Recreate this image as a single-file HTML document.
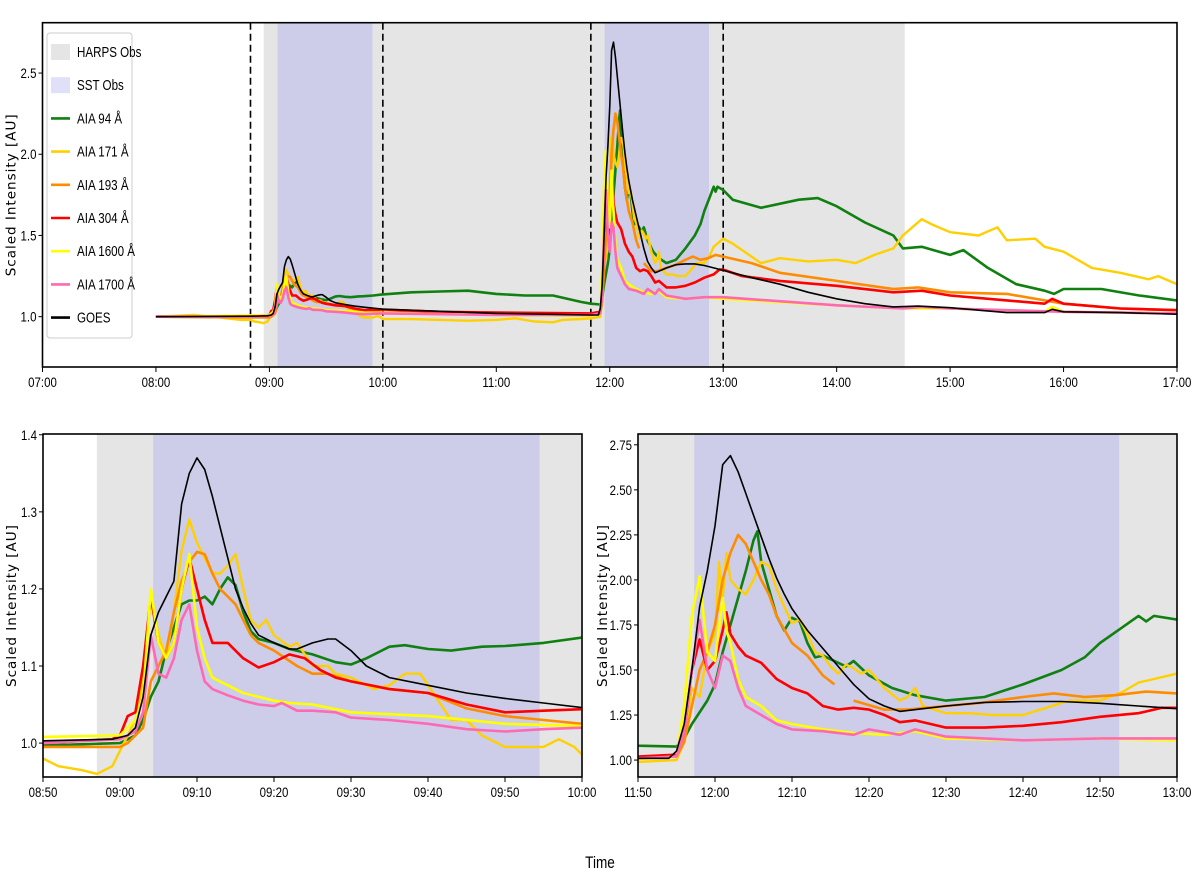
<!DOCTYPE html>
<html><head><meta charset="utf-8">
<style>
body{margin:0;background:#fff;width:1200px;height:885px;overflow:hidden}
svg text{font-family:"Liberation Sans Narrow","Liberation Sans",sans-serif}
</style></head>
<body>
<svg id="fig" width="1200" height="885" viewBox="0 0 1200 885" xmlns="http://www.w3.org/2000/svg">
<text x="600" y="868" font-size="17" text-anchor="middle" transform="translate(600,868) scale(0.8,1) translate(-600,-868)">Time</text>
</svg>
<script>
// ---- data (times as HH:MM, values scaled intensity) ----
const t94 = ["08:00","08:50","09:00","09:02","09:03","09:04","09:05","09:06","09:07","09:08","09:09","09:10","09:11","09:12","09:13","09:14","09:15","09:16","09:17","09:18","09:20","09:22","09:25","09:28","09:30","09:32","09:35","09:37","09:40","09:43","09:47","09:50","09:55","10:00","10:15","10:30","10:45","11:00","11:15","11:30","11:45","11:50","11:55","11:56","11:57","11:59","12:00","12:01","12:02","12:03","12:04","12:05","12:05.5","12:06","12:07","12:08","12:09","12:10","12:11","12:12","12:13","12:14","12:15","12:17","12:18","12:20","12:23","12:26","12:30","12:35","12:40","12:45","12:48","12:50","12:53","12:55","12:56","12:57","13:00","13:05","13:20","13:40","13:50","14:00","14:15","14:30","14:35","14:45","15:00","15:07","15:20","15:35","15:50","15:55","16:00","16:20","16:40","17:00"];
const v94 = [1.0,0.997,1.0,1.01,1.03,1.06,1.08,1.12,1.15,1.18,1.185,1.185,1.19,1.18,1.2,1.215,1.205,1.17,1.145,1.135,1.13,1.122,1.115,1.105,1.102,1.11,1.125,1.127,1.122,1.12,1.125,1.126,1.13,1.137,1.15,1.155,1.16,1.14,1.13,1.13,1.09,1.08,1.075,1.12,1.2,1.33,1.42,1.6,1.75,1.9,2.05,2.22,2.27,2.1,1.95,1.8,1.72,1.79,1.77,1.65,1.57,1.58,1.56,1.52,1.55,1.47,1.4,1.36,1.33,1.35,1.42,1.5,1.57,1.65,1.74,1.8,1.77,1.8,1.78,1.72,1.67,1.72,1.73,1.68,1.58,1.5,1.42,1.43,1.38,1.41,1.3,1.2,1.16,1.14,1.17,1.17,1.13,1.1];

const t171 = ["08:00","08:20","08:30","08:45","08:50","08:52","08:55","08:57","08:59","09:00","09:02","09:03","09:04","09:05","09:06","09:07","09:08","09:09","09:10","09:11","09:12","09:13","09:14","09:15","09:16","09:17","09:18","09:19","09:20","09:22","09:23","09:25","09:27","09:28","09:30","09:33","09:35","09:37","09:39","09:41","09:43","09:45","09:47","09:50","09:53","09:55","09:57","09:59","10:00","10:15","10:30","10:45","11:00","11:10","11:20","11:30","11:35","11:45","11:50","11:55","11:56","11:57","11:58","11:59","12:00","12:00.5","12:01","12:01.5","12:02","12:03","12:04","12:05","12:06","12:07","12:08","12:09","12:10","12:11","12:12","12:13","12:14","12:15","12:16","12:17","12:18","12:19","12:20","12:21","12:22","12:24","12:25","12:26","12:27","12:30","12:33","12:36","12:40","12:43","12:46","12:50","12:53","12:55","12:57","13:00","13:05","13:15","13:20","13:30","13:45","14:00","14:10","14:20","14:30","14:35","14:45","14:50","15:00","15:15","15:25","15:30","15:45","15:50","16:00","16:15","16:30","16:45","16:50","17:00"];
const v171 = [1.0,1.01,1.0,0.98,0.98,0.97,0.965,0.96,0.97,0.99,1.03,1.08,1.19,1.14,1.11,1.17,1.25,1.29,1.26,1.24,1.22,1.22,1.23,1.245,1.2,1.16,1.15,1.16,1.14,1.125,1.13,1.1,1.1,1.09,1.085,1.07,1.075,1.09,1.09,1.06,1.03,1.03,1.01,0.995,0.995,0.995,1.005,0.995,0.985,0.985,0.98,0.975,0.98,0.99,0.97,0.965,0.98,0.985,0.99,1.0,1.1,1.4,1.35,1.6,1.7,2.1,1.9,2.15,2.0,1.95,1.92,2.0,2.1,2.08,1.95,1.85,1.76,1.78,1.7,1.6,1.58,1.52,1.48,1.53,1.51,1.48,1.5,1.45,1.4,1.33,1.35,1.4,1.3,1.26,1.26,1.25,1.25,1.29,1.33,1.33,1.38,1.43,1.45,1.48,1.45,1.37,1.33,1.36,1.34,1.35,1.33,1.38,1.42,1.5,1.6,1.57,1.52,1.5,1.55,1.47,1.48,1.43,1.4,1.3,1.27,1.23,1.25,1.2];

const t193 = ["08:00","08:50","09:00","09:01","09:03","09:04","09:05","09:06","09:07","09:08","09:09","09:10","09:11","09:12","09:13","09:14","09:15","09:16","09:17","09:18","09:20","09:23","09:25","09:27","09:30","09:35","09:40","09:45","09:50","09:55","10:00","11:00","11:50","11:55","11:56","11:57","11:58","11:59","12:00","12:01","12:02","12:03","12:04","12:05","12:06","12:07","12:08","12:10","12:12","12:14","12:15.5","12:16","12:18","12:22","12:25","12:30","12:35","12:40","12:44","12:48","12:52","12:56","13:00","13:15","13:30","14:00","14:30","14:43","15:00","15:30","15:50","16:00","16:30","17:00"];
const v193 = [1.0,0.995,0.995,1.0,1.02,1.08,1.1,1.12,1.17,1.21,1.235,1.248,1.245,1.22,1.2,1.19,1.18,1.16,1.14,1.13,1.12,1.1,1.09,1.09,1.08,1.07,1.065,1.045,1.035,1.03,1.025,1.015,1.01,1.02,1.1,1.3,1.5,1.6,1.75,2.0,2.15,2.25,2.2,2.1,2.0,1.92,1.8,1.65,1.58,1.47,1.42,null,1.33,1.28,1.28,1.3,1.32,1.35,1.37,1.35,1.36,1.38,1.37,1.33,1.27,1.22,1.17,1.18,1.15,1.14,1.1,1.08,1.05,1.04];

const t304 = ["08:00","08:50","08:59","09:00","09:01","09:02","09:03","09:04","09:05","09:06","09:07","09:08","09:09","09:10","09:11","09:12","09:14","09:16","09:18","09:20","09:22","09:24","09:26","09:28","09:30","09:35","09:40","09:45","09:50","09:55","10:00","10:30","11:00","11:50","11:55","11:56","11:57","11:58","11:59","12:00","12:01","12:01.5","12:02","12:03","12:04","12:06","12:08","12:10","12:12","12:14","12:16","12:18","12:20","12:22","12:24","12:26","12:28","12:30","12:35","12:40","12:45","12:50","12:55","12:58","13:00","13:10","13:30","14:00","14:30","14:45","15:00","15:30","15:50","15:54","16:00","16:30","17:00"];
const v304 = [1.0,1.0,1.005,1.01,1.035,1.04,1.1,1.19,1.13,1.11,1.13,1.2,1.24,1.2,1.16,1.13,1.13,1.11,1.098,1.105,1.115,1.11,1.095,1.085,1.08,1.07,1.065,1.05,1.04,1.042,1.044,1.03,1.025,1.02,1.03,1.15,1.5,1.67,1.5,1.55,1.72,1.82,1.7,1.63,1.58,1.54,1.45,1.4,1.37,1.3,1.28,1.29,1.28,1.25,1.21,1.22,1.2,1.18,1.18,1.19,1.21,1.24,1.26,1.29,1.29,1.25,1.22,1.19,1.15,1.16,1.13,1.1,1.08,1.11,1.08,1.05,1.04];

const t1600 = ["08:00","08:50","09:00","09:02","09:03","09:04","09:05","09:06","09:07","09:08","09:09","09:10","09:11","09:12","09:14","09:16","09:18","09:20","09:22","09:25","09:30","09:40","09:50","10:00","11:00","11:50","11:55","11:56","11:57","11:58","11:59","12:00","12:01","12:01.5","12:02","12:03","12:04","12:06","12:08","12:10","12:14","12:18","12:22","12:26","12:30","12:40","12:50","13:00","14:00","14:35","15:00","15:50","15:54","16:00","17:00"];
const v1600 = [1.0,1.008,1.01,1.03,1.06,1.2,1.13,1.11,1.13,1.2,1.245,1.15,1.11,1.085,1.075,1.065,1.06,1.055,1.052,1.05,1.04,1.035,1.025,1.022,1.01,1.005,1.02,1.3,1.8,2.02,1.6,1.55,1.9,1.72,1.65,1.45,1.35,1.3,1.22,1.2,1.17,1.15,1.14,1.16,1.12,1.11,1.12,1.11,1.07,1.05,1.05,1.03,1.06,1.03,1.02];

const t1700 = ["08:00","08:50","09:00","09:02","09:03","09:04","09:05","09:06","09:07","09:08","09:09","09:10","09:11","09:12","09:14","09:16","09:18","09:20","09:21","09:23","09:25","09:28","09:30","09:35","09:40","09:45","09:50","09:55","10:00","11:00","11:50","11:55","11:56","11:57","11:58","11:59","12:00","12:01","12:02","12:03","12:04","12:06","12:08","12:10","12:14","12:18","12:20","12:24","12:26","12:30","12:40","12:50","13:00","14:00","14:35","14:45","15:00","16:00","17:00"];
const v1700 = [1.0,1.0,1.005,1.015,1.04,1.14,1.09,1.085,1.11,1.16,1.18,1.12,1.08,1.07,1.062,1.055,1.05,1.048,1.052,1.042,1.042,1.04,1.033,1.03,1.025,1.018,1.015,1.018,1.02,1.01,1.01,1.02,1.15,1.5,1.78,1.5,1.4,1.58,1.55,1.4,1.3,1.25,1.2,1.17,1.16,1.14,1.17,1.14,1.17,1.13,1.11,1.12,1.12,1.07,1.05,1.06,1.05,1.03,1.02];

const tGoes = ["08:00","08:50","08:59","09:01","09:02","09:03","09:04","09:05","09:06","09:07","09:08","09:09","09:10","09:11","09:12","09:13","09:14","09:15","09:16","09:17","09:18","09:20","09:22","09:23","09:25","09:27","09:28","09:30","09:32","09:35","09:40","09:45","09:50","09:55","10:00","11:00","11:50","11:54","11:55","11:56","11:57","11:58","11:59","12:00","12:01","12:02","12:03","12:04","12:05","12:06","12:07","12:08","12:09","12:10","12:12","12:14","12:16","12:18","12:20","12:22","12:24","12:27","12:30","12:35","12:40","12:45","12:50","12:55","13:00","13:15","13:30","13:45","14:00","14:15","14:30","14:43","15:00","15:15","15:30","15:50","15:54","16:00","16:30","17:00"];
const vGoes = [1.0,1.003,1.005,1.01,1.02,1.06,1.14,1.17,1.19,1.21,1.31,1.35,1.37,1.355,1.32,1.28,1.24,1.2,1.175,1.155,1.14,1.13,1.122,1.122,1.13,1.135,1.135,1.12,1.1,1.085,1.075,1.065,1.058,1.052,1.046,1.02,1.01,1.01,1.05,1.2,1.5,1.85,2.05,2.3,2.64,2.69,2.6,2.48,2.36,2.24,2.12,2.01,1.92,1.84,1.72,1.62,1.52,1.42,1.34,1.3,1.27,1.285,1.3,1.32,1.325,1.325,1.315,1.3,1.285,1.24,1.2,1.15,1.11,1.08,1.06,1.065,1.055,1.04,1.025,1.025,1.045,1.03,1.025,1.015];

const topTicks = ["07:00","08:00","09:00","10:00","11:00","12:00","13:00","14:00","15:00","16:00","17:00"];
const leftTicks = ["08:50","09:00","09:10","09:20","09:30","09:40","09:50","10:00"];
const rightTicks = ["11:50","12:00","12:10","12:20","12:30","12:40","12:50","13:00"];
const topYTicks = [1.0,1.5,2.0,2.5];
const leftYTicks = [1.0,1.1,1.2,1.3,1.4];
const rightYTicks = [1.00,1.25,1.50,1.75,2.00,2.25,2.50,2.75];
const harpsSpan = ["08:57","14:36"];
const sstSpans = [["09:04.3","09:54.5"],["11:57.3","12:52.5"]];
const flareMarks = ["08:50","10:00","11:50","13:00"];

const NS = "http://www.w3.org/2000/svg";
const fig = document.getElementById('fig');
function tm(s){const p=s.split(':');return (+p[0])*60+parseFloat(p[1]);}
function mk(tag,attrs,parent){const e=document.createElementNS(NS,tag);for(const k in attrs)e.setAttribute(k,attrs[k]);(parent||fig).appendChild(e);return e;}

const series = [
 {name:"aia-94-line",t:t94,v:v94,c:"#108010",w:2.6},
 {name:"aia-171-line",t:t171,v:v171,c:"#ffd000",w:2.4},
 {name:"aia-193-line",t:t193,v:v193,c:"#ff8c00",w:2.6},
 {name:"aia-304-line",t:t304,v:v304,c:"#ff0000",w:2.6},
 {name:"aia-1600-line",t:t1600,v:v1600,c:"#ffff00",w:2.6},
 {name:"aia-1700-line",t:t1700,v:v1700,c:"#ff69b4",w:2.6},
 {name:"goes-line",t:tGoes,v:vGoes,c:"#000000",w:1.6}
];

function panel(id,L,R,T,B,x0,x1,y0,y1,xt,yt,yfmt,dash,titleOff){
  const g=mk('g',{});
  
  
  const X=m=>L+(m-tm(x0))/(tm(x1)-tm(x0))*(R-L);
  const Y=v=>B-(v-y0)/(y1-y0)*(B-T);
  const clipId=id+'-clip';
  const cp=mk('clipPath',{id:clipId},g);mk('rect',{x:L,y:T,width:R-L,height:B-T},cp);
  const body=mk('g',{'clip-path':'url(#'+clipId+')'},g);
  const h=mk('rect',{x:X(tm(harpsSpan[0])),y:T,width:X(tm(harpsSpan[1]))-X(tm(harpsSpan[0])),height:B-T,fill:'#e5e5e5'},body);
  
  
  sstSpans.forEach(s=>{const r=mk('rect',{x:X(tm(s[0])),y:T,width:X(tm(s[1]))-X(tm(s[0])),height:B-T,fill:'#cdcde9'},body);
    
    });
  if(dash){flareMarks.forEach(f=>{const l=mk('line',{x1:X(tm(f)),x2:X(tm(f)),y1:T,y2:B,stroke:'#000','stroke-width':1.6,'stroke-dasharray':'7,4'},body);
    
    });}
  series.forEach(s=>{let d='',pen=false;
    for(let i=0;i<s.t.length;i++){if(s.v[i]===null){pen=false;continue;}
      d+=(pen?'L':'M')+X(tm(s.t[i])).toFixed(1)+','+Y(s.v[i]).toFixed(1);pen=true;}
    const p=mk('path',{d:d,fill:'none',stroke:s.c,'stroke-width':s.w,'stroke-linejoin':'round'},body);
    
    });
  mk('rect',{x:L,y:T,width:R-L,height:B-T,fill:'none',stroke:'#000','stroke-width':1.6},g);
  xt.forEach(s=>{const x=X(tm(s));mk('line',{x1:x,x2:x,y1:B,y2:B+5,stroke:'#000','stroke-width':1},g);
    const tx=mk('text',{x:x,y:B+20,'font-size':13.5,'text-anchor':'middle',transform:`translate(${x},0) scale(0.85,1) translate(${-x},0)`},g);tx.textContent=s;
    
    });
  yt.forEach(v=>{const y=Y(v);mk('line',{x1:L-4,x2:L,y1:y,y2:y,stroke:'#000','stroke-width':1},g);
    const tx=mk('text',{x:L-6,y:y+5,'font-size':13.5,'text-anchor':'end',transform:`translate(${L-6},0) scale(0.85,1) translate(${-(L-6)},0)`},g);tx.textContent=yfmt(v);
    
    });
  const yl=mk('text',{x:0,y:0,'font-size':13.5,'text-anchor':'middle','letter-spacing':'1',transform:`translate(${L-titleOff},${(T+B)/2}) rotate(-90)`,style:'font-family:"DejaVu Sans",sans-serif'},g);
  yl.textContent='Scaled Intensity [AU]';
  
  
  return g;
}
panel('top-panel',42.5,1177,22.7,367,"07:00","17:00",0.69,2.81,topTicks,topYTicks,v=>v.toFixed(1),true,27);
panel('left-zoom-panel',43,582,434,777,"08:50","10:00",0.956,1.401,leftTicks,leftYTicks,v=>v.toFixed(1),false,27);
panel('right-zoom-panel',638,1177,434,777,"11:50","13:00",0.906,2.81,rightTicks,rightYTicks,v=>v.toFixed(2),false,31);

// legend
const leg=mk('g',{});


mk('rect',{x:47,y:33,width:85,height:305,rx:3,fill:'#fff','fill-opacity':0.85,stroke:'#ccc','stroke-width':1},leg);
const legItems=[["HARPS Obs","patch","#e5e5e5"],["SST Obs","patch","#e0e0f8"],["AIA 94 Å","line","#108010"],["AIA 171 Å","line","#ffd000"],["AIA 193 Å","line","#ff8c00"],["AIA 304 Å","line","#ff0000"],["AIA 1600 Å","line","#ffff00"],["AIA 1700 Å","line","#ff69b4"],["GOES","line","#000"]];
legItems.forEach((it,i)=>{const y=52+i*33.2;const e=mk('g',{},leg);
  
  
  if(it[1]==='patch')mk('rect',{x:51,y:y-8,width:19,height:16,fill:it[2]},e);
  else mk('line',{x1:51,x2:70,y1:y,y2:y,stroke:it[2],'stroke-width':2.6},e);
  const tx=mk('text',{x:77,y:y+5,'font-size':14.5,transform:`translate(77,0) scale(0.8,1) translate(-77,0)`},e);tx.textContent=it[0];});
</script>
</body></html>
